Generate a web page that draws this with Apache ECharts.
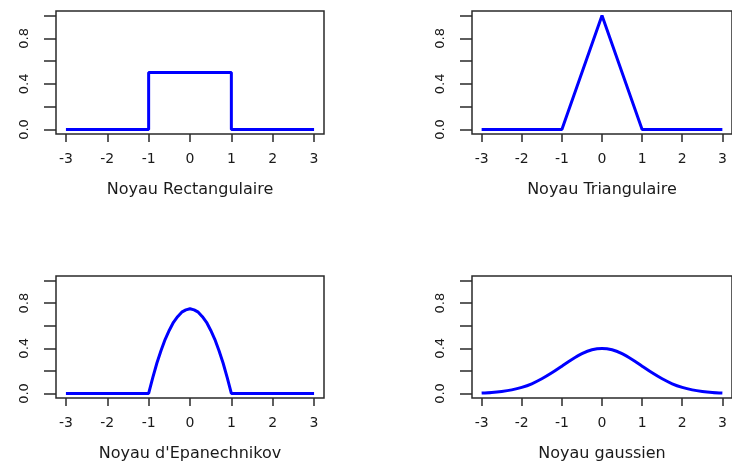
<!DOCTYPE html>
<html><head><meta charset="utf-8">
<script src="https://cdn.jsdelivr.net/npm/echarts@6/dist/echarts.min.js"></script>
<style>html,body{margin:0;padding:0;background:#fff}#c{width:732px;height:463px}</style>
</head><body><div id="c"></div>
<script>
const titles = ['Noyau Rectangulaire', 'Noyau Triangulaire', "Noyau d'Epanechnikov", 'Noyau gaussien'];
const xTicks = [-3, -2, -1, 0, 1, 2, 3];
const yTicks = [0, 0.2, 0.4, 0.6, 0.8, 1.0];
const yLabels = [0, 0.4, 0.8];

const rectX = [-3, -1, -1, 1, 1, 3];
const rectY = [0, 0, 0.5, 0.5, 0, 0];

const triX = [-3, -1, 0, 1, 3];
const triY = [0, 0, 1, 0, 0];

const epaX = [-3, -1, -0.9, -0.8, -0.7, -0.6, -0.5, -0.4, -0.3, -0.2, -0.1, 0, 0.1, 0.2, 0.3, 0.4, 0.5, 0.6, 0.7, 0.8, 0.9, 1, 3];
const epaY = [0, 0, 0.14, 0.27, 0.38, 0.48, 0.56, 0.63, 0.68, 0.72, 0.74, 0.75, 0.74, 0.72, 0.68, 0.63, 0.56, 0.48, 0.38, 0.27, 0.14, 0, 0];

const gaussX = [-3, -2.75, -2.5, -2.25, -2, -1.75, -1.5, -1.25, -1, -0.75, -0.5, -0.25, 0, 0.25, 0.5, 0.75, 1, 1.25, 1.5, 1.75, 2, 2.25, 2.5, 2.75, 3];
const gaussY = [0.004, 0.009, 0.018, 0.032, 0.054, 0.086, 0.130, 0.183, 0.242, 0.301, 0.352, 0.387, 0.399, 0.387, 0.352, 0.301, 0.242, 0.183, 0.130, 0.086, 0.054, 0.032, 0.018, 0.009, 0.004];

const seriesX = [rectX, triX, epaX, gaussX];
const seriesY = [rectY, triY, epaY, gaussY];

const FONT = 'DejaVu Sans';
const gridPos = [
  {left: 56, top: 11}, {left: 472, top: 11},
  {left: 56, top: 276}, {left: 472, top: 276}
];

const option = {
  animation: false,
  backgroundColor: '#ffffff',
  grid: gridPos.map(p => ({
    left: p.left, top: p.top, width: 268, height: 123,
    show: true, borderColor: '#2a2a2a', borderWidth: 1.5, backgroundColor: 'transparent',
    containLabel: false
  })),
  xAxis: titles.map((t, i) => ({
    type: 'value', gridIndex: i, min: -3.24, max: 3.24, position: 'bottom',
    splitLine: {show: false},
    axisLine: {show: false, onZero: false},
    axisTick: {show: true, customValues: xTicks, length: 8, lineStyle: {color: '#2a2a2a', width: 1.5}},
    axisLabel: {customValues: xTicks, fontSize: 14, color: '#1a1a1a', margin: 18, fontFamily: FONT},
    name: t, nameLocation: 'middle', nameGap: 48,
    nameTextStyle: {fontSize: 16, color: '#1a1a1a', fontFamily: FONT}
  })),
  yAxis: titles.map((t, i) => ({
    type: 'value', gridIndex: i, min: -0.04, max: 1.04, position: 'left',
    splitLine: {show: false},
    axisLine: {show: false, onZero: false},
    axisTick: {show: true, customValues: yTicks, length: 12, lineStyle: {color: '#2a2a2a', width: 1.5}},
    axisLabel: {customValues: yLabels, rotate: 90, fontSize: 13, color: '#1a1a1a', margin: 25, fontFamily: FONT,
      formatter: v => Number(v).toFixed(1)}
  })),
  series: titles.map((t, i) => ({
    type: 'line', xAxisIndex: i, yAxisIndex: i,
    data: seriesX[i].map((x, k) => [x, seriesY[i][k]]),
    showSymbol: false, symbol: 'none',
    smooth: i === 3 ? 0.3 : false,
    lineStyle: {color: '#0000ff', width: 3},
    itemStyle: {color: '#0000ff'}
  }))
};
echarts.init(document.getElementById('c'), null, {renderer: 'canvas'}).setOption(option);
</script></body></html>
